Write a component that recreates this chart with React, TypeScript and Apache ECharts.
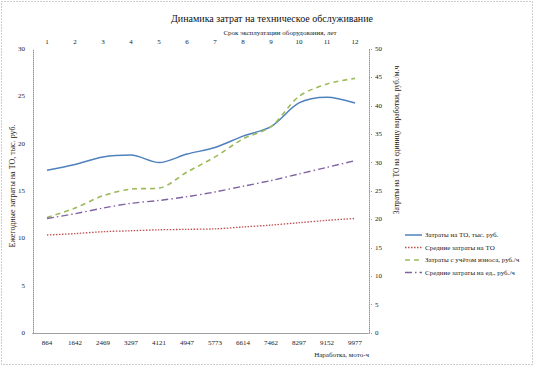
import React, { useEffect, useRef } from "react";
import * as echarts from "echarts";

const hours = ["864", "1642", "2469", "3297", "4121", "4947", "5773", "6614", "7462", "8297", "9152", "9977"];
const years = ["1", "2", "3", "4", "5", "6", "7", "8", "9", "10", "11", "12"];

const seriesNames = [
  "Затраты на ТО, тыс. руб.",
  "Средние затраты на ТО",
  "Затраты с учётом износа, руб./ч",
  "Средние затраты на ед., руб./ч",
];

const blueValues = [17.2, 17.8, 18.6, 18.8, 18.0, 18.9, 19.6, 20.8, 21.8, 24.3, 24.9, 24.3];
const redValues = [10.35, 10.5, 10.7, 10.8, 10.9, 10.95, 11.0, 11.2, 11.4, 11.65, 11.9, 12.1];
const greenValues = [12.2, 13.2, 14.5, 15.2, 15.3, 17.0, 18.6, 20.5, 21.8, 25.0, 26.3, 26.9];
const purpleValues = [12.1, 12.6, 13.2, 13.7, 14.0, 14.4, 14.9, 15.5, 16.1, 16.8, 17.5, 18.2];

const titleText = "Динамика затрат на техническое обслуживание";
const topAxisName = "Срок эксплуатации оборудования, лет";
const leftAxisName = "Ежегодные затраты на ТО, тыс. руб.";
const rightAxisName = "Затраты на ТО на единицу наработки, руб./м.ч";
const bottomAxisName = "Наработка, мото-ч";

const FONT = "Liberation Serif";

const colors = ["#4F81BD", "#C0504D", "#9BBB59", "#8064A2"];
const dashes: (number[] | null)[] = [null, [1.5, 1.5], [5, 4], [7, 3, 1.5, 3]];
const widths = [1.5, 1.3, 1.6, 1.4];
const dataSets = [blueValues, redValues, greenValues, purpleValues];

export default function App() {
  const ref = useRef<HTMLDivElement>(null);
  useEffect(() => {
    if (!ref.current) return;
    const chart = echarts.init(ref.current, undefined, { renderer: "svg" });
    const axisLineStyle = { color: "#9a9a9a", type: "dotted" as const, width: 1 };
    const labelStyle = { color: "#222", fontSize: 7, fontFamily: FONT };

    const legendGraphics: any[] = [];
    seriesNames.forEach((name, i) => {
      const y = 235 + i * 12.5;
      legendGraphics.push({
        type: "line",
        shape: { x1: 405, y1: y, x2: 422, y2: y },
        style: { stroke: colors[i], lineWidth: widths[i], lineDash: dashes[i] || undefined },
        silent: true,
      });
      legendGraphics.push({
        type: "text",
        x: 425,
        y,
        style: { text: name, fontSize: 7, fill: "#222", fontFamily: FONT, align: "left", verticalAlign: "middle" },
        silent: true,
      });
    });

    chart.setOption({
      animation: false,
      backgroundColor: "#fff",
      title: {
        text: titleText,
        left: 267,
        top: 8,
        textAlign: "center",
        textStyle: { fontSize: 10, fontWeight: "normal", color: "#111", fontFamily: FONT },
      },
      grid: { left: 33, right: 165, top: 49, bottom: 33, containLabel: false },
      xAxis: [
        {
          type: "category",
          position: "bottom",
          data: hours,
          boundaryGap: true,
          axisLine: { show: true, lineStyle: axisLineStyle },
          axisTick: { show: false },
          axisLabel: { ...labelStyle, margin: 6 },
          splitLine: { show: false },
        },
        {
          type: "category",
          position: "top",
          data: years,
          boundaryGap: true,
          axisLine: { show: true, lineStyle: axisLineStyle },
          axisTick: { show: false },
          axisLabel: { ...labelStyle, margin: 4 },
          splitLine: { show: false },
        },
      ],
      yAxis: [
        {
          type: "value",
          position: "left",
          min: 0,
          max: 30,
          interval: 5,
          axisLine: { show: true, lineStyle: axisLineStyle },
          axisTick: { show: false },
          axisLabel: { ...labelStyle, margin: 8 },
          splitLine: { show: false },
        },
        {
          type: "value",
          position: "right",
          min: 0,
          max: 50,
          interval: 5,
          axisLine: { show: true, lineStyle: axisLineStyle },
          axisTick: { show: true, length: 4, lineStyle: axisLineStyle },
          axisLabel: { ...labelStyle, margin: 6 },
          splitLine: { show: false },
        },
      ],
      series: seriesNames.map((name, i) => ({
        name,
        type: "line",
        data: dataSets[i],
        smooth: 0.3,
        symbol: "none",
        lineStyle: { color: colors[i], width: widths[i], type: dashes[i] || "solid" },
        itemStyle: { color: colors[i] },
      })),
      graphic: [
        {
          type: "rect",
          shape: { x: 1.5, y: 1.5, width: 531, height: 363 },
          style: { fill: "none", stroke: "#9a9a9a", lineWidth: 1, lineDash: [1, 2] },
          silent: true,
        },
        {
          type: "text",
          x: 280,
          y: 33,
          style: { text: topAxisName, fontSize: 7, fill: "#222", fontFamily: FONT, align: "center", verticalAlign: "middle" },
        },
        {
          type: "text",
          x: 12,
          y: 186,
          rotation: Math.PI / 2,
          style: { text: leftAxisName, fontSize: 8, fill: "#222", fontFamily: FONT, align: "center", verticalAlign: "middle" },
        },
        {
          type: "text",
          x: 396,
          y: 140,
          rotation: Math.PI / 2,
          style: { text: rightAxisName, fontSize: 7.5, fill: "#222", fontFamily: FONT, align: "center", verticalAlign: "middle" },
        },
        {
          type: "text",
          x: 369,
          y: 355,
          style: { text: bottomAxisName, fontSize: 7, fill: "#222", fontFamily: FONT, align: "right", verticalAlign: "middle" },
        },
        ...legendGraphics,
      ],
    });
    return () => chart.dispose();
  }, []);
  return (
    <div
      ref={ref}
      style={{ position: "absolute", left: 0, top: 0, width: 534, height: 366 }}
    />
  );
}
